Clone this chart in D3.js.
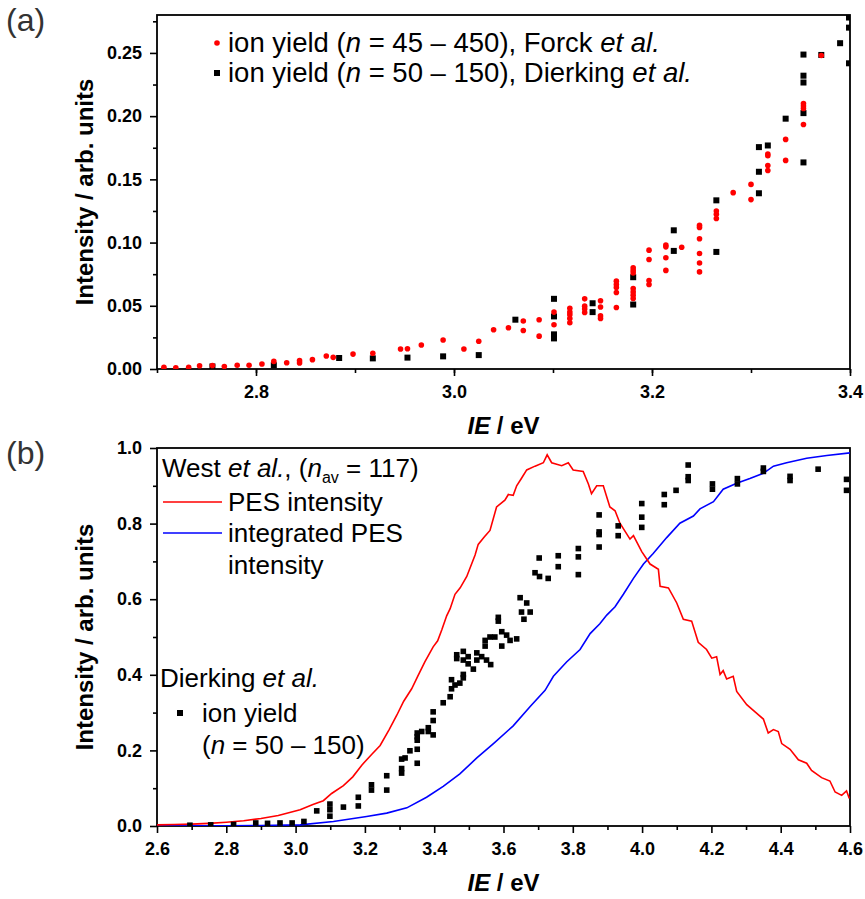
<!DOCTYPE html>
<html>
<head>
<meta charset="utf-8">
<script src="https://cdn.jsdelivr.net/npm/d3@7"></script>
<style>
  body { margin: 0; background: #fff; }
  text { font-family: "Liberation Sans", Arial, sans-serif; }
</style>
</head>
<body>
<svg id="chart" width="865" height="899"></svg>
<script>
// ---- panel (a) data: [IE in eV, intensity] ----
const forckYield = [
  [2.707,0.0013],[2.719,0.001],[2.732,0.0013],[2.743,0.0026],[2.756,0.0028],[2.768,0.002],[2.781,0.003],
  [2.793,0.003],[2.806,0.004],[2.818,0.006],[2.831,0.005],[2.844,0.0066],[2.844,0.0047],[2.857,0.0074],
  [2.871,0.0103],[2.878,0.0092],[2.898,0.0118],[2.918,0.0124],[2.946,0.0158],[2.953,0.016],[2.967,0.019],
  [2.989,0.0229],[3.010,0.0158],[3.025,0.022],[3.040,0.031],[3.055,0.0326],[3.070,0.038],[3.070,0.0305],
  [3.086,0.039],[3.086,0.026],[3.101,0.045],[3.101,0.035],[3.117,0.048],[3.117,0.045],[3.117,0.043],
  [3.117,0.040],[3.117,0.0366],[3.132,0.0555],[3.132,0.0497],[3.132,0.0474],[3.132,0.0447],[3.148,0.054],
  [3.148,0.049],[3.148,0.042],[3.148,0.040],[3.164,0.0695],[3.164,0.0668],[3.164,0.0645],[3.164,0.0605],
  [3.164,0.0487],[3.181,0.080],[3.181,0.078],[3.181,0.076],[3.181,0.0637],[3.181,0.061],[3.181,0.0584],
  [3.181,0.0558],[3.197,0.094],[3.197,0.0866],[3.197,0.070],[3.197,0.0668],[3.214,0.098],[3.214,0.0966],
  [3.214,0.088],[3.214,0.078],[3.230,0.0963],[3.248,0.1137],[3.248,0.112],[3.248,0.103],[3.248,0.0913],
  [3.248,0.0839],[3.248,0.0768],[3.265,0.125],[3.265,0.1224],[3.265,0.119],[3.282,0.1395],[3.300,0.146],
  [3.300,0.134],[3.317,0.170],[3.317,0.1687],[3.317,0.161],[3.317,0.157],[3.335,0.1816],[3.335,0.165],
  [3.353,0.210],[3.353,0.208],[3.353,0.206],[3.353,0.1934],[3.371,0.248]
];
const dierkingYieldA = [
  [2.756,0.002],[2.818,0.003],[2.884,0.0087],[2.918,0.0084],[2.953,0.009],[2.989,0.010],[3.025,0.011],
  [3.062,0.039],[3.101,0.0555],[3.101,0.0416],[3.101,0.0274],[3.101,0.0242],[3.140,0.052],[3.140,0.045],
  [3.181,0.0726],[3.181,0.051],[3.222,0.1097],[3.222,0.0934],[3.265,0.1334],[3.265,0.0926],[3.308,0.1755],
  [3.308,0.156],[3.308,0.139],[3.317,0.1768],[3.335,0.198],[3.353,0.2487],[3.353,0.232],[3.353,0.2266],
  [3.353,0.2024],[3.353,0.1634],[3.371,0.2484],[3.390,0.2577],[3.399,0.278],[3.399,0.270],[3.399,0.2418]
];

// ---- panel (b) data ----
const pesIntensity = [
  [2.6,0.003],[2.65,0.004],[2.7,0.005],[2.75,0.007],[2.8,0.01],[2.85,0.014],[2.9,0.02],[2.95,0.028],
  [3.013,0.043],[3.05,0.057],[3.080,0.067],[3.104,0.086],[3.138,0.107],[3.165,0.13],[3.191,0.161],
  [3.22,0.19],[3.244,0.213],[3.27,0.255],[3.292,0.293],[3.312,0.33],[3.335,0.363],[3.352,0.395],
  [3.373,0.434],[3.397,0.474],[3.41,0.49],[3.422,0.519],[3.436,0.556],[3.446,0.575],[3.460,0.613],
  [3.475,0.63],[3.494,0.660],[3.518,0.717],[3.527,0.745],[3.545,0.765],[3.561,0.782],[3.580,0.844],
  [3.604,0.862],[3.614,0.877],[3.628,0.875],[3.638,0.900],[3.652,0.92],[3.667,0.942],[3.691,0.952],
  [3.715,0.961],[3.726,0.982],[3.739,0.961],[3.768,0.953],[3.787,0.961],[3.801,0.942],[3.830,0.938],
  [3.845,0.905],[3.854,0.879],[3.869,0.900],[3.888,0.900],[3.907,0.844],[3.922,0.834],[3.936,0.801],
  [3.965,0.759],[3.975,0.768],[3.999,0.726],[4.023,0.693],[4.047,0.679],[4.052,0.634],[4.076,0.630],
  [4.100,0.590],[4.119,0.547],[4.143,0.542],[4.162,0.486],[4.186,0.467],[4.201,0.444],[4.215,0.448],
  [4.225,0.401],[4.234,0.411],[4.244,0.389],[4.263,0.396],[4.273,0.356],[4.302,0.321],[4.326,0.302],
  [4.350,0.283],[4.364,0.246],[4.379,0.255],[4.393,0.250],[4.403,0.218],[4.427,0.203],[4.451,0.175],
  [4.475,0.166],[4.489,0.147],[4.518,0.128],[4.542,0.119],[4.557,0.090],[4.576,0.081],[4.590,0.093],
  [4.598,0.073]
];
const pesIntegrated = [
  [2.6,0],[2.7,0.0003],[2.8,0.0008],[2.9,0.0015],[3.013,0.003],[3.109,0.012],[3.205,0.025],[3.263,0.034],
  [3.321,0.048],[3.378,0.076],[3.426,0.105],[3.474,0.138],[3.523,0.18],[3.571,0.218],[3.628,0.265],
  [3.677,0.316],[3.72,0.359],[3.744,0.396],[3.782,0.434],[3.821,0.467],[3.850,0.509],[3.878,0.535],
  [3.898,0.558],[3.922,0.58],[3.946,0.613],[3.975,0.655],[4.004,0.693],[4.032,0.721],[4.071,0.763],
  [4.109,0.801],[4.148,0.82],[4.167,0.839],[4.206,0.858],[4.234,0.891],[4.273,0.907],[4.311,0.919],
  [4.350,0.933],[4.379,0.952],[4.417,0.961],[4.475,0.973],[4.533,0.980],[4.600,0.987]
];
const dierkingYieldB = [
  [2.695,0.002],[2.755,0.003],[2.821,0.004],[2.885,0.008],[2.919,0.007],[2.955,0.008],[2.99,0.008],
  [3.024,0.012],[3.061,0.040],[3.099,0.058],[3.099,0.043],[3.099,0.026],[3.138,0.050],[3.181,0.076],
  [3.181,0.053],[3.219,0.109],[3.219,0.095],[3.263,0.133],[3.263,0.095],[3.306,0.177],[3.306,0.152],
  [3.306,0.140],[3.316,0.18],[3.330,0.199],[3.351,0.166],[3.351,0.203],[3.351,0.246],[3.351,0.236],
  [3.351,0.227],[3.364,0.250],[3.383,0.26],[3.383,0.25],[3.397,0.302],[3.397,0.279],[3.397,0.241],
  [3.426,0.326],[3.446,0.342],[3.450,0.363],[3.450,0.387],[3.460,0.373],[3.465,0.443],[3.465,0.453],
  [3.474,0.378],[3.484,0.462],[3.484,0.439],[3.484,0.401],[3.484,0.392],[3.498,0.448],[3.498,0.429],
  [3.513,0.415],[3.523,0.458],[3.523,0.439],[3.537,0.448],[3.547,0.491],[3.547,0.476],[3.551,0.439],
  [3.563,0.427],[3.561,0.5],[3.575,0.5],[3.585,0.552],[3.585,0.542],[3.595,0.514],[3.595,0.476],
  [3.609,0.505],[3.619,0.491],[3.638,0.495],[3.648,0.604],[3.652,0.566],[3.659,0.547],[3.667,0.59],
  [3.677,0.566],[3.691,0.670],[3.704,0.66],[3.703,0.709],[3.729,0.655],[3.758,0.715],[3.758,0.686],
  [3.816,0.734],[3.816,0.712],[3.816,0.665],[3.876,0.823],[3.876,0.778],[3.876,0.771],[3.876,0.738],
  [3.931,0.794],[3.931,0.768],[3.999,0.853],[3.999,0.817],[3.999,0.790],[4.064,0.877],[4.064,0.850],
  [4.098,0.888],[4.133,0.955],[4.133,0.924],[4.133,0.914],[4.203,0.905],[4.203,0.891],[4.275,0.919],
  [4.275,0.905],[4.350,0.947],[4.350,0.938],[4.427,0.925],[4.427,0.914],[4.508,0.944],[4.590,0.917],
  [4.590,0.888]
];

// axis ranges and ticks
const xDomainA = [2.7, 3.4], yDomainA = [0, 0.28];
const xMajorA = [2.8, 3.0, 3.2, 3.4], xMinorA = d3.range(2.7, 3.41, 0.1);
const yMajorA = [0, 0.05, 0.10, 0.15, 0.20, 0.25], yMinorA = d3.range(0.025, 0.28, 0.05);
const xDomainB = [2.6, 4.6], yDomainB = [0, 1.0];
const xMajorB = d3.range(2.6, 4.61, 0.2), xMinorB = d3.range(2.7, 4.6, 0.2);
const yMajorB = [0, 0.2, 0.4, 0.6, 0.8, 1.0], yMinorB = [0.1, 0.3, 0.5, 0.7, 0.9];

const svg = d3.select('#chart');
const left = 157, right = 850;

function drawPanel(cfg) {
  const x = d3.scaleLinear().domain(cfg.xDomain).range([left, right]);
  const y = d3.scaleLinear().domain(cfg.yDomain).range([cfg.bottom, cfg.top]);
  const g = svg.append('g');

  g.append('clipPath').attr('id', cfg.id + '-clip')
    .append('rect').attr('x', left).attr('y', cfg.top)
    .attr('width', right - left).attr('height', cfg.bottom - cfg.top);

  // minor ticks
  g.append('g').attr('transform', `translate(0,${cfg.bottom})`)
    .call(d3.axisBottom(x).tickValues(cfg.xMinor).tickSize(4).tickSizeOuter(0).tickFormat(''));
  g.append('g').attr('transform', `translate(${left},0)`)
    .call(d3.axisLeft(y).tickValues(cfg.yMinor).tickSize(4).tickSizeOuter(0).tickFormat(''));
  // major ticks
  g.append('g').attr('class', 'tick-lab').attr('transform', `translate(0,${cfg.bottom})`)
    .call(d3.axisBottom(x).tickValues(cfg.xMajor).tickSize(7).tickSizeOuter(0)
      .tickPadding(9).tickFormat(d3.format('.1f')));
  g.append('g').attr('class', 'tick-lab').attr('transform', `translate(${left},0)`)
    .call(d3.axisLeft(y).tickValues(cfg.yMajor).tickSize(7).tickSizeOuter(0)
      .tickPadding(8).tickFormat(d3.format(cfg.yFormat)));

  g.selectAll('.domain').remove();
  g.selectAll('.tick line').attr('stroke', '#000').attr('stroke-width', 1.6);
  g.selectAll('.tick-lab text').attr('font-size', 18).attr('font-weight', 'bold')
    .attr('fill', '#000').style('font-family', '"Liberation Sans", Arial, sans-serif');

  // frame
  g.append('rect').attr('x', left).attr('y', cfg.top)
    .attr('width', right - left).attr('height', cfg.bottom - cfg.top)
    .attr('fill', 'none').attr('stroke', '#000').attr('stroke-width', 1.8);

  // axis titles
  const xt = g.append('text').attr('x', (left + right) / 2).attr('y', cfg.bottom + 65)
    .attr('text-anchor', 'middle').attr('font-size', 24).attr('font-weight', 'bold');
  xt.append('tspan').attr('font-style', 'italic').text('IE');
  xt.append('tspan').text(' / eV');
  g.append('text')
    .attr('transform', `translate(93,${(cfg.top + cfg.bottom) / 2}) rotate(-90)`)
    .attr('text-anchor', 'middle').attr('font-size', 24).attr('font-weight', 'bold')
    .text('Intensity / arb. units');

  // panel letter
  g.append('text').attr('x', 6).attr('y', cfg.top + 16).attr('font-size', 32)
    .attr('fill', '#333').text(cfg.letter);

  const plot = g.append('g').attr('clip-path', `url(#${cfg.id}-clip)`);
  return { x, y, g, plot };
}

// ---- panel (a) ----
const A = drawPanel({ id: 'a', letter: '(a)', top: 15, bottom: 369,
  xDomain: xDomainA, yDomain: yDomainA, xMajor: xMajorA, xMinor: xMinorA,
  yMajor: yMajorA, yMinor: yMinorA, yFormat: '.2f' });

A.plot.selectAll('rect.dk').data(dierkingYieldA).join('rect').attr('class', 'dk')
  .attr('x', d => A.x(d[0]) - 3).attr('y', d => A.y(d[1]) - 3)
  .attr('width', 6).attr('height', 6).attr('fill', '#000');
A.plot.selectAll('circle.fk').data(forckYield).join('circle').attr('class', 'fk')
  .attr('cx', d => A.x(d[0])).attr('cy', d => A.y(d[1])).attr('r', 2.8).attr('fill', '#ff0000');

// legend (a)
const legA = A.g.append('g').attr('font-size', 27.5);
legA.append('circle').attr('cx', 217).attr('cy', 43).attr('r', 2.8).attr('fill', '#ff0000');
legA.append('rect').attr('x', 214).attr('y', 70).attr('width', 6).attr('height', 6).attr('fill', '#000');
const la1 = legA.append('text').attr('x', 228).attr('y', 52);
la1.append('tspan').text('ion yield (');
la1.append('tspan').attr('font-style', 'italic').text('n');
la1.append('tspan').text(' = 45 \u2013 450), Forck ');
la1.append('tspan').attr('font-style', 'italic').text('et al.');
const la2 = legA.append('text').attr('x', 228).attr('y', 82);
la2.append('tspan').text('ion yield (');
la2.append('tspan').attr('font-style', 'italic').text('n');
la2.append('tspan').text(' = 50 \u2013 150), Dierking ');
la2.append('tspan').attr('font-style', 'italic').text('et al.');

// ---- panel (b) ----
const B = drawPanel({ id: 'b', letter: '(b)', top: 448, bottom: 826,
  xDomain: xDomainB, yDomain: yDomainB, xMajor: xMajorB, xMinor: xMinorB,
  yMajor: yMajorB, yMinor: yMinorB, yFormat: '.1f' });

const line = d3.line().x(d => B.x(d[0])).y(d => B.y(d[1]));
B.plot.append('path').datum(pesIntegrated).attr('d', line)
  .attr('fill', 'none').attr('stroke', '#0000ff').attr('stroke-width', 1.6);
B.plot.append('path').datum(pesIntensity).attr('d', line)
  .attr('fill', 'none').attr('stroke', '#ff0000').attr('stroke-width', 1.6);
B.plot.selectAll('rect.dk').data(dierkingYieldB).join('rect').attr('class', 'dk')
  .attr('x', d => B.x(d[0]) - 2.8).attr('y', d => B.y(d[1]) - 2.8)
  .attr('width', 5.6).attr('height', 5.6).attr('fill', '#000');

// legend (b)
const legB = B.g.append('g').attr('font-size', 26);
const lb0 = legB.append('text').attr('x', 162).attr('y', 477);
lb0.append('tspan').text('West ');
lb0.append('tspan').attr('font-style', 'italic').text('et al.');
lb0.append('tspan').text(', (');
lb0.append('tspan').attr('font-style', 'italic').text('n');
lb0.append('tspan').attr('font-size', 16).attr('dy', 6).text('av');
lb0.append('tspan').attr('dy', -6).text(' = 117)');
legB.append('line').attr('x1', 163).attr('x2', 222).attr('y1', 502).attr('y2', 502)
  .attr('stroke', '#ff0000').attr('stroke-width', 1.6);
legB.append('text').attr('x', 228).attr('y', 511).text('PES intensity');
legB.append('line').attr('x1', 163).attr('x2', 222).attr('y1', 533).attr('y2', 533)
  .attr('stroke', '#0000ff').attr('stroke-width', 1.6);
legB.append('text').attr('x', 228).attr('y', 542).text('integrated PES');
legB.append('text').attr('x', 228).attr('y', 574).text('intensity');
const lb3 = legB.append('text').attr('x', 160).attr('y', 687);
lb3.append('tspan').text('Dierking ');
lb3.append('tspan').attr('font-style', 'italic').text('et al.');
legB.append('rect').attr('x', 177).attr('y', 710).attr('width', 6).attr('height', 6).attr('fill', '#000');
legB.append('text').attr('x', 202).attr('y', 722).text('ion yield');
const lb4 = legB.append('text').attr('x', 202).attr('y', 754);
lb4.append('tspan').text('(');
lb4.append('tspan').attr('font-style', 'italic').text('n');
lb4.append('tspan').text(' = 50 \u2013 150)');
</script>
</body>
</html>
